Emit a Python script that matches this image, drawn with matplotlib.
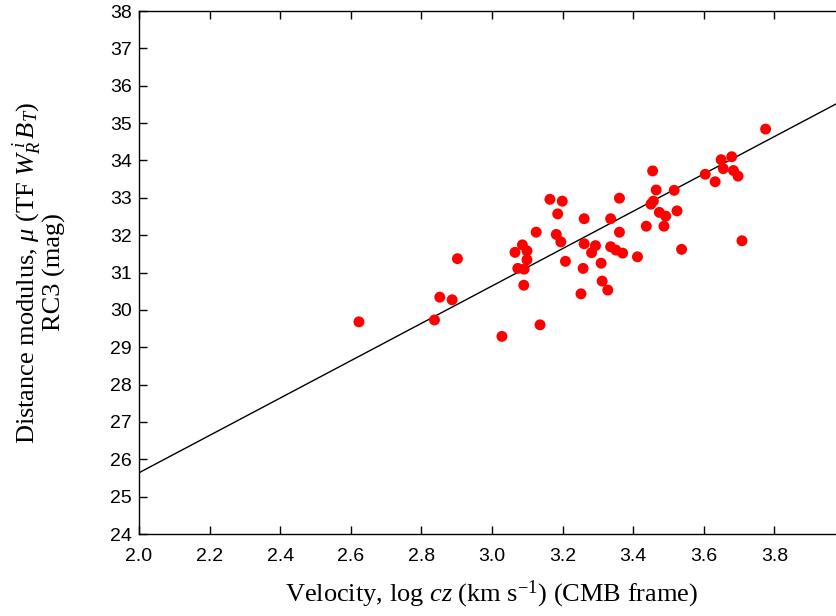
import matplotlib
matplotlib.use('Agg')
import matplotlib.pyplot as plt
import numpy as np
from matplotlib.ticker import FormatStrFormatter

# log cz (km/s), CMB frame
log_cz = [2.623, 2.837, 2.852, 2.887, 2.902, 3.028, 3.136, 3.090, 3.164, 3.199,
          3.186, 3.261, 3.125, 3.182, 3.195, 3.086, 3.065, 3.099, 3.099, 3.073,
          3.091, 3.208, 3.261, 3.293, 3.282, 3.258, 3.252, 3.309, 3.312, 3.328,
          3.336, 3.336, 3.351, 3.370, 3.412, 3.361, 3.361, 3.437, 3.487, 3.455,
          3.465, 3.516, 3.457, 3.450, 3.474, 3.492, 3.524, 3.537, 3.604, 3.632,
          3.649, 3.679, 3.655, 3.684, 3.697, 3.708, 3.775]
# distance modulus (mag)
mu = [29.68, 29.73, 30.34, 30.27, 31.37, 29.29, 29.60, 30.66, 32.96, 32.91,
      32.57, 32.44, 32.08, 32.02, 31.82, 31.74, 31.54, 31.58, 31.34, 31.11,
      31.09, 31.30, 31.77, 31.72, 31.53, 31.11, 30.43, 31.25, 30.77, 30.53,
      32.44, 31.69, 31.60, 31.52, 31.42, 32.99, 32.08, 32.24, 32.24, 33.72,
      33.21, 33.20, 32.91, 32.83, 32.61, 32.51, 32.65, 31.62, 33.63, 33.43,
      34.02, 34.10, 33.78, 33.73, 33.58, 31.85, 34.84]

# fitted relation mu = slope * log cz + zero point
slope = 5.0
zero_point = 15.64
fit_x = [2.0, 4.0]

xticks = [2.0, 2.2, 2.4, 2.6, 2.8, 3.0, 3.2, 3.4, 3.6, 3.8]
yticks = list(range(24, 39))

plt.rcParams['mathtext.fontset'] = 'custom'
plt.rcParams['mathtext.rm'] = 'Liberation Serif'
plt.rcParams['mathtext.it'] = 'Liberation Serif:italic'
plt.rcParams['mathtext.bf'] = 'Liberation Serif:bold'

fig = plt.figure(figsize=(8.37, 6.16), dpi=100)
ax = fig.add_axes([0.1661, 0.1331, 0.8435, 0.8490])

fit_y = [slope * v + zero_point for v in fit_x]
ax.plot(fit_x, fit_y, color='black', lw=1.0, zorder=2)
ax.scatter(log_cz, mu, s=62, color='#ff0000', edgecolors='none', zorder=3)

ax.set_xlim(2.0, 4.0)
ax.set_ylim(24, 38)
ax.set_xticks(xticks)
ax.set_yticks(yticks)
ax.xaxis.set_major_formatter(FormatStrFormatter('%.1f'))
ax.tick_params(direction='in', top=True, right=True, length=5.5, width=1.0)
ax.tick_params(axis='x', pad=10)
ax.tick_params(axis='y', pad=5)
for lab in ax.get_xticklabels() + ax.get_yticklabels():
    lab.set_family(['Liberation Sans Narrow', 'Liberation Sans'])
    lab.set_fontsize(14)
for sp in ax.spines.values():
    sp.set_linewidth(1.0)

ax.set_xlabel(r'Velocity, log $cz$ (km s$^{\mathrm{-1}}$) (CMB frame)',
              family='Liberation Serif', fontsize=19, labelpad=10)
ax.set_ylabel('Distance modulus, $\\mu$ (TF $W_{R}^{\\ i}\\,B_{T}$)\nRC3 (mag)',
              family='Liberation Serif', fontsize=19, labelpad=32,
              linespacing=0.95)

plt.savefig('out.png', dpi=100)
